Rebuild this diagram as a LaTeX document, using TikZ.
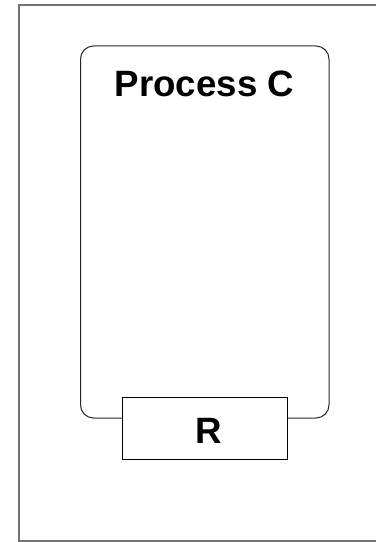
\documentclass[tikz,border=0pt]{standalone}
\usepackage{fontspec}
\setmainfont{Liberation Sans}
\tikzset{
  frameline/.style={draw=black!55, line width=1.3bp},
  procbox/.style={draw=black!85, line width=1bp, rounded corners=13bp},
  portbox/.style={draw=black, fill=white, line width=1bp},
  bigtext/.style={font=\fontsize{36.8}{40}\selectfont\bfseries, inner sep=0pt}
}
\begin{document}
\begin{tikzpicture}[x=1bp, y=-1bp]
  \useasboundingbox (0,0) rectangle (375,542);
  \draw[frameline] (380,5) -- (19,5) -- (19,541) -- (380,541);
  \draw[procbox] (80.5,46) rectangle (329,418);
  \node[bigtext, anchor=base] (ptitle) at (204.5,97) {Process C};
  \node[portbox, minimum width=165bp, minimum height=62bp, inner sep=0pt] (rbox) at (204.5,428.5) {};
  \node[bigtext, anchor=base] (rlabel) at (208.5,443) {R};
\end{tikzpicture}
\end{document}
